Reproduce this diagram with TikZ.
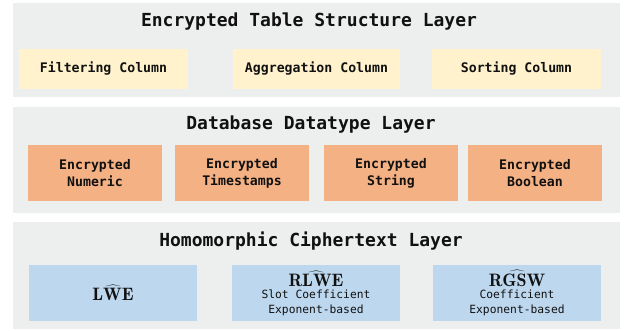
\documentclass[tikz,border=0pt]{standalone}
\usepackage{fontspec}
\setmonofont{DejaVu Sans Mono}
\usetikzlibrary{positioning}

\definecolor{layergray}{HTML}{EDEEEE}
\definecolor{coltan}{HTML}{FFF2CC}
\definecolor{typeorange}{HTML}{F4B183}
\definecolor{cipherblue}{HTML}{BDD7EE}
\definecolor{inkblack}{HTML}{111111}

\newcommand{\cipherscheme}[1]{{\fontsize{18}{20}\selectfont$\widehat{\mathbf{#1}}$}}

\begin{document}
\begin{tikzpicture}[
    x=1pt, y=-1pt,
    layer/.style={rectangle, fill=layergray, inner sep=0pt, minimum width=607pt},
    layertitle/.style={font=\ttfamily\bfseries\fontsize{18}{21}\selectfont, text=inkblack},
    colbox/.style={rectangle, fill=coltan, inner sep=0pt, minimum height=40pt,
        font=\ttfamily\bfseries\fontsize{13.2}{16}\selectfont, text=inkblack},
    typebox/.style={rectangle, fill=typeorange, inner sep=0pt, minimum width=134pt,
        minimum height=56pt, align=center,
        font=\ttfamily\bfseries\fontsize{13.2}{17}\selectfont, text=inkblack},
    cipherbox/.style={rectangle, fill=cipherblue, inner sep=0pt, minimum width=168pt,
        minimum height=56pt, align=center,
        font=\ttfamily\fontsize{11.3}{15}\selectfont, text=inkblack}
]
\useasboundingbox (0,0) rectangle (631,331);

% layers
\node (TableLayer) [layer, minimum height=94pt] at (316.5,50) {};
\node (TypeLayer) [layer, minimum height=106pt] at (316.5,160) {};
\node (CipherLayer) [layer, minimum height=107pt] at (316.5,275.5) {};

\node (TableTitle) [layertitle] at (309,21.5) {Encrypted Table Structure Layer};
\node (TypeTitle) [layertitle] at (311,125) {Database Datatype Layer};
\node (CipherTitle) [layertitle] at (311,241) {Homomorphic Ciphertext Layer};

% table structure
\node (Filtering) [colbox, minimum width=169pt] at (103.5,69) {\strut Filtering Column};
\node (Aggregation) [colbox, minimum width=167pt] at (316.5,69) {\strut Aggregation Column};
\node (Sorting) [colbox, minimum width=169pt] at (516.5,69) {\strut Sorting Column};

% datatypes
\node (Numeric) [typebox] at (95,173) {Encrypted\\Numeric};
\node (Timestamps) [typebox] at (242,173) {Encrypted\\Timestamps};
\node (String) [typebox] at (391,173) {Encrypted\\String};
\node (Boolean) [typebox] at (535,173) {Encrypted\\Boolean};

% ciphertexts
\node (LWE) [cipherbox] at (113,293) {\cipherscheme{LWE}};
\node (RLWE) [cipherbox] at (316,293)
  {\cipherscheme{RLWE}\\[-3pt]Slot Coefficient\\Exponent-based};
\node (RGSW) [cipherbox] at (517,293)
  {\cipherscheme{RGSW}\\[-3pt]Coefficient\\Exponent-based};
\end{tikzpicture}
\end{document}
